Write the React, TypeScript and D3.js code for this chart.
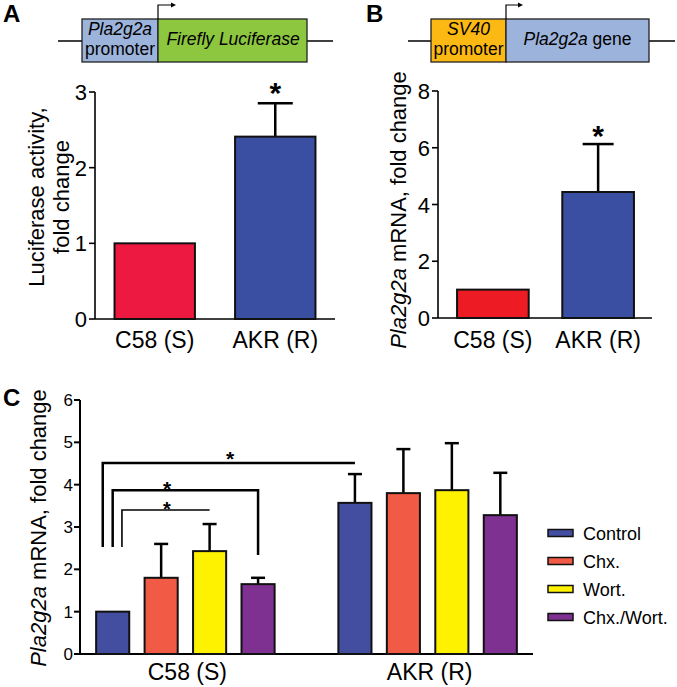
import React from "react";
import * as d3 from "d3";

const FONT = "'Liberation Sans', Arial, Helvetica, sans-serif";

// Panel A
const aCategories = ["C58 (S)", "AKR (R)"];
const aValues = [1, 2.41];
const aErrors = [0, 0.44];
const aTicks = [0, 1, 2, 3];

// Panel B
const bCategories = ["C58 (S)", "AKR (R)"];
const bValues = [1, 4.44];
const bErrors = [0, 1.69];
const bTicks = [0, 2, 4, 6, 8];

// Panel C
const cGroups = ["C58 (S)", "AKR (R)"];
const cTreatments = ["Control", "Chx.", "Wort.", "Chx./Wort."];
const cC58Values = [1, 1.8, 2.43, 1.65];
const cAKRValues = [3.57, 3.8, 3.87, 3.28];
const cC58Errors = [0, 0.8, 0.64, 0.15];
const cAKRErrors = [0.68, 1.04, 1.11, 1.0];
const cTicks = [0, 1, 2, 3, 4, 5, 6];

const aColors = ["#EE1941", "#3A4FA1"];
const bColors = ["#ED1C24", "#3A4FA1"];
const cColors = ["#434EA0", "#F15A45", "#FFF200", "#7E3190"];

function Asterisk({ x, y, size }: { x: number; y: number; size: number }) {
  return (
    <text x={x} y={y + size * 0.62} fontSize={size} fontWeight="bold" textAnchor="middle" fontFamily={FONT}>
      *
    </text>
  );
}

export default function App() {
  const axA = d3.scaleBand<string>().domain(aCategories).range([95, 335]).paddingInner(0.333).paddingOuter(0.162);
  const ayA = d3.scaleLinear().domain([0, 3]).range([319, 92]);
  const axB = d3.scaleBand<string>().domain(bCategories).range([438, 653]).paddingInner(0.319).paddingOuter(0.181);
  const ayB = d3.scaleLinear().domain([0, 8]).range([318, 91]);
  const x0C = d3.scaleBand<string>().domain(cGroups).range([80, 533]).paddingInner(0.2).paddingOuter(0.035);
  const x1C = d3.scaleBand<string>().domain(cTreatments).range([0, x0C.bandwidth()]).paddingInner(0.317).paddingOuter(0.158);
  const ayC = d3.scaleLinear().domain([0, 6]).range([654, 400]);

  const cData = cGroups.map((g, gi) => ({
    group: g,
    values: gi === 0 ? cC58Values : cAKRValues,
    errors: gi === 0 ? cC58Errors : cAKRErrors,
  }));

  const barX = (gi: number, ti: number) => (x0C(cGroups[gi]) as number) + (x1C(cTreatments[ti]) as number);
  const barW = x1C.bandwidth();
  const barCx = (gi: number, ti: number) => barX(gi, ti) + barW / 2;

  const brackets = [
    { top: 4.51, leftFrac: 0.2, leftBottom: 2.53, toG: 1, toT: 0, rightBottom: null as number | null, w: 2.5 },
    { top: 3.87, leftFrac: 0.5, leftBottom: 2.53, toG: 0, toT: 3, rightBottom: 2.34 as number | null, w: 2.5 },
    { top: 3.4, leftFrac: 0.78, leftBottom: 2.53, toG: 0, toT: 2, rightBottom: null as number | null, w: 1.6 },
  ];

  return (
    <svg width={677} height={687} style={{ position: "absolute", left: 0, top: 0, background: "#fff" }} fontFamily={FONT}>
      {/* ================= Panel A ================= */}
      <text x={3} y={22} fontSize={24} fontWeight="bold">A</text>
      <line x1={58} x2={333} y1={41} y2={41} stroke="#000" strokeWidth={1.5} />
      <rect x={82} y={19} width={76} height={43} fill="#9CB3DB" stroke="#222" strokeWidth={1.3} />
      <rect x={158} y={19} width={149} height={43} fill="#8DC63F" stroke="#222" strokeWidth={1.3} />
      <text x={120} y={35} fontSize={17.5} fontStyle="italic" textAnchor="middle">Pla2g2a</text>
      <text x={120} y={55} fontSize={17.5} textAnchor="middle">promoter</text>
      <text x={233} y={45} fontSize={17.5} fontStyle="italic" textAnchor="middle">Firefly Luciferase</text>
      <path d="M158,19 V5 H171" fill="none" stroke="#000" strokeWidth={1.2} />
      <path d="M171,2.5 L176,5 L171,7.5 Z" fill="#000" />

      <line x1={95} x2={95} y1={ayA(3)} y2={ayA(0)} stroke="#000" strokeWidth={1.6} />
      <line x1={95} x2={335} y1={ayA(0)} y2={ayA(0)} stroke="#000" strokeWidth={1.6} />
      {aTicks.map((t) => (
        <g key={"at" + t}>
          <line x1={89} x2={95} y1={ayA(t)} y2={ayA(t)} stroke="#000" strokeWidth={1.6} />
          <text x={87} y={ayA(t) + 8} fontSize={22} textAnchor="end">{t}</text>
        </g>
      ))}
      {aCategories.map((c, i) => {
        const x = axA(c) as number;
        const w = axA.bandwidth();
        const top = ayA(aValues[i]);
        return (
          <g key={"ab" + c}>
            {aErrors[i] > 0 && (
              <g>
                <line x1={x + w / 2} x2={x + w / 2} y1={top} y2={ayA(aValues[i] + aErrors[i])} stroke="#000" strokeWidth={2.5} />
                <line x1={x + w / 2 - 17.5} x2={x + w / 2 + 17.5} y1={ayA(aValues[i] + aErrors[i])} y2={ayA(aValues[i] + aErrors[i])} stroke="#000" strokeWidth={2.5} />
              </g>
            )}
            <rect x={x} y={top} width={w} height={ayA(0) - top} fill={aColors[i]} stroke="#111" strokeWidth={2} />
            <text x={x + w / 2} y={348} fontSize={23} textAnchor="middle">{c}</text>
          </g>
        );
      })}
      <Asterisk x={(axA("AKR (R)") as number) + axA.bandwidth() / 2} y={84} size={30} />
      <text transform="translate(44,197) rotate(-90)" fontSize={22} textAnchor="middle">Luciferase activity,</text>
      <text transform="translate(69,197) rotate(-90)" fontSize={22} textAnchor="middle">fold change</text>

      {/* ================= Panel B ================= */}
      <text x={366} y={22} fontSize={24} fontWeight="bold">B</text>
      <line x1={408} x2={675} y1={41} y2={41} stroke="#000" strokeWidth={1.5} />
      <rect x={431} y={19} width={75} height={43} fill="#FDB913" stroke="#222" strokeWidth={1.3} />
      <rect x={506} y={19} width={143} height={43} fill="#9CB3DB" stroke="#222" strokeWidth={1.3} />
      <text x={468.5} y={35} fontSize={17.5} fontStyle="italic" textAnchor="middle">SV40</text>
      <text x={468.5} y={55} fontSize={17.5} textAnchor="middle">promoter</text>
      <text x={577.5} y={45} fontSize={17.5} textAnchor="middle">
        <tspan fontStyle="italic">Pla2g2a</tspan> gene
      </text>
      <path d="M506,19 V5 H518" fill="none" stroke="#000" strokeWidth={1.2} />
      <path d="M518,2.5 L523,5 L518,7.5 Z" fill="#000" />

      <line x1={438} x2={438} y1={ayB(8)} y2={ayB(0)} stroke="#000" strokeWidth={1.6} />
      <line x1={438} x2={652} y1={ayB(0)} y2={ayB(0)} stroke="#000" strokeWidth={1.6} />
      {bTicks.map((t) => (
        <g key={"bt" + t}>
          <line x1={432} x2={438} y1={ayB(t)} y2={ayB(t)} stroke="#000" strokeWidth={1.6} />
          <text x={430} y={ayB(t) + 8} fontSize={22} textAnchor="end">{t}</text>
        </g>
      ))}
      {bCategories.map((c, i) => {
        const x = axB(c) as number;
        const w = axB.bandwidth();
        const top = ayB(bValues[i]);
        return (
          <g key={"bb" + c}>
            {bErrors[i] > 0 && (
              <g>
                <line x1={x + w / 2} x2={x + w / 2} y1={top} y2={ayB(bValues[i] + bErrors[i])} stroke="#000" strokeWidth={2.5} />
                <line x1={x + w / 2 - 15.5} x2={x + w / 2 + 15.5} y1={ayB(bValues[i] + bErrors[i])} y2={ayB(bValues[i] + bErrors[i])} stroke="#000" strokeWidth={2.5} />
              </g>
            )}
            <rect x={x} y={top} width={w} height={ayB(0) - top} fill={bColors[i]} stroke="#111" strokeWidth={2} />
            <text x={x + w / 2} y={348} fontSize={23} textAnchor="middle">{c}</text>
          </g>
        );
      })}
      <Asterisk x={(axB("AKR (R)") as number) + axB.bandwidth() / 2} y={127} size={30} />
      <text transform="translate(406,210) rotate(-90)" fontSize={22} textAnchor="middle">
        <tspan fontStyle="italic">Pla2g2a</tspan> mRNA,  fold change
      </text>

      {/* ================= Panel C ================= */}
      <text x={3} y={406} fontSize={24} fontWeight="bold">C</text>
      <line x1={80} x2={80} y1={ayC(6)} y2={ayC(0)} stroke="#000" strokeWidth={2} />
      <line x1={80} x2={533} y1={ayC(0)} y2={ayC(0)} stroke="#000" strokeWidth={2.2} />
      {cTicks.map((t) => (
        <g key={"ct" + t}>
          <line x1={74} x2={80} y1={ayC(t)} y2={ayC(t)} stroke="#000" strokeWidth={2} />
          <text x={73} y={ayC(t) + 6} fontSize={17} textAnchor="end">{t}</text>
        </g>
      ))}
      {cData.map((gd, gi) => (
        <g key={"cg" + gd.group}>
          {gd.values.map((v, ti) => {
            const x = barX(gi, ti);
            const top = ayC(v);
            const e = gd.errors[ti];
            const cx = x + barW / 2;
            return (
              <g key={"cb" + ti}>
                {e > 0 && (
                  <g>
                    <line x1={cx} x2={cx} y1={top} y2={ayC(v + e)} stroke="#000" strokeWidth={2.5} />
                    <line x1={cx - 7} x2={cx + 7} y1={ayC(v + e)} y2={ayC(v + e)} stroke="#000" strokeWidth={2.5} />
                  </g>
                )}
                <rect x={x} y={top} width={barW} height={ayC(0) - top} fill={cColors[ti]} stroke="#111" strokeWidth={2} />
              </g>
            );
          })}
          <text x={(x0C(gd.group) as number) + x0C.bandwidth() / 2 + 2} y={680} fontSize={23} textAnchor="middle">{gd.group}</text>
        </g>
      ))}
      {brackets.map((b, i) => {
        const lx = barX(0, 0) + barW * b.leftFrac;
        const rx = barCx(b.toG, b.toT);
        const ty = ayC(b.top);
        let d = `M${lx},${ayC(b.leftBottom)} V${ty} H${rx}`;
        if (b.rightBottom !== null) d += ` V${ayC(b.rightBottom)}`;
        return <path key={"br" + i} d={d} fill="none" stroke="#000" strokeWidth={b.w} />;
      })}
      <Asterisk x={230} y={453} size={21} />
      <Asterisk x={167} y={483} size={21} />
      <Asterisk x={167} y={504} size={20} />
      <text transform="translate(46,528) rotate(-90)" fontSize={22} textAnchor="middle">
        <tspan fontStyle="italic">Pla2g2a</tspan> mRNA,  fold change
      </text>

      {cTreatments.map((t, i) => (
        <g key={"lg" + t}>
          <rect x={548} y={529.5 + i * 28} width={25} height={7} fill={cColors[i]} stroke="#111" strokeWidth={1.5} />
          <text x={583} y={540 + i * 28} fontSize={18}>{t}</text>
        </g>
      ))}
    </svg>
  );
}
